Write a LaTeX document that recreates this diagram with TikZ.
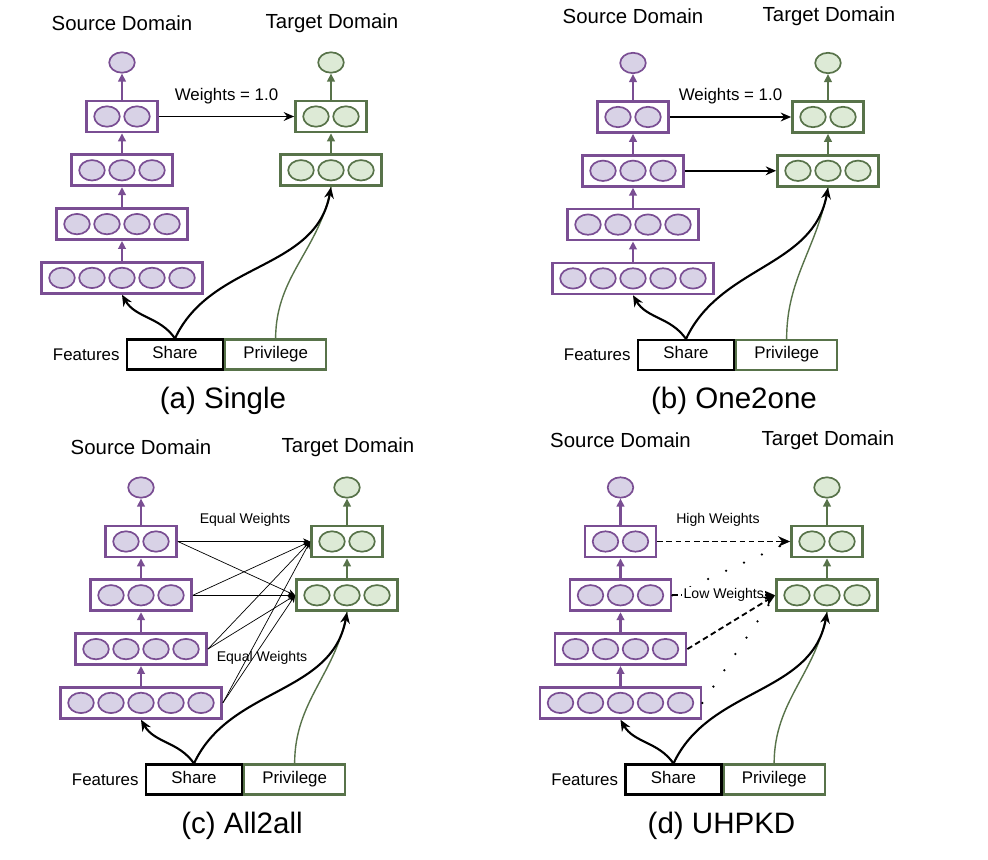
\documentclass[tikz,border=0pt]{standalone}
\usepackage{fontspec}
\setmainfont{Liberation Sans}
\usetikzlibrary{arrows.meta,positioning,shapes.geometric}
\definecolor{srcline}{HTML}{7A4E93}
\definecolor{srcfill}{HTML}{D8D2E6}
\definecolor{tgtline}{HTML}{58734A}
\definecolor{tgtfill}{HTML}{DDEAD6}

\newcommand\nnlayer[5]{%
  \node[layerbox,draw=#5line,minimum width={0.75cm*#2+0.275cm}] (#1) at (#3,{-(#4)}) {};
  \foreach \k in {1,...,#2}
    \node[unitnode,draw=#5line,fill=#5fill] (#1u\k) at ({#3+30*(\k-(#2+1)/2)},{-(#4)}) {};
}

\newcommand\nnpanel[6]{%
  \node[domtitle] (#1st) at (#2,{-(#5)}) {Source Domain};
  \node[domtitle] (#1tt) at ({#3+1},{-(#5)}) {Target Domain};
  \node[unitnode,draw=srcline,fill=srcfill] (#1so) at (#2,{-(#4-54)}) {};
  \node[unitnode,draw=tgtline,fill=tgtfill] (#1to) at (#3,{-(#4-54)}) {};
  \nnlayer{#1s2}{2}{#2}{#4}{src}
  \nnlayer{#1s3}{3}{#2}{#4+53.8}{src}
  \nnlayer{#1s4}{4}{#2}{#4+107.6}{src}
  \nnlayer{#1s5}{5}{#2}{#4+161.4}{src}
  \nnlayer{#1t2}{2}{#3}{#4}{tgt}
  \nnlayer{#1t3}{3}{#3}{#4+53.8}{tgt}
  \draw[uparr,srcline] (#1s5.north) -- (#1s4.south);
  \draw[uparr,srcline] (#1s4.north) -- (#1s3.south);
  \draw[uparr,srcline] (#1s3.north) -- (#1s2.south);
  \draw[uparr,srcline] (#1s2.north) -- (#1so.south);
  \draw[uparr,tgtline] (#1t3.north) -- (#1t2.south);
  \draw[uparr,tgtline] (#1t2.north) -- (#1to.south);
  \node[featbox,minimum width=2.4cm] (#1sh) at ({#2+53},{-(#4+238)}) {Share};
  \node[featbox,draw=tgtline,minimum width=2.525cm,right=0pt of #1sh] (#1pv) {Privilege};
  \node[lbl,left=1pt of #1sh] (#1ft) {Features};
  \node[capt] (#1cap) at ({#2+101},{-(#4+284)}) {#6};
  \draw[privline] (#1pv.north) to[out=90,in=-100] (#1t3.south);
  \draw[feedarr] (#1sh.north) to[out=125,in=-60] (#1s5.south);
  \draw[feedarr] (#1sh.north) to[out=65,in=-100] (#1t3.south);
}

\begin{document}
\begin{tikzpicture}[x=0.025cm,y=0.025cm,
  domtitle/.style={font=\fontsize{14.5}{17}\selectfont},
  lbl/.style={font=\fontsize{12}{14}\selectfont},
  capt/.style={font=\fontsize{21}{25}\selectfont},
  wlabel/.style={font=\fontsize{12}{14}\selectfont},
  wsmall/.style={font=\fontsize{10}{12}\selectfont},
  layerbox/.style={draw,line width=1.9pt,minimum height=0.775cm,inner sep=0pt},
  unitnode/.style={ellipse,line width=1.2pt,minimum width=0.64cm,minimum height=0.51cm,inner sep=0pt},
  featbox/.style={draw,line width=1.5pt,minimum height=0.75cm,inner sep=0pt,
    text height=1.35ex,text depth=0.35ex,font=\fontsize{12}{14}\selectfont},
  uparr/.style={line width=1.5pt,-{Triangle[length=2mm,width=1.9mm]}},
  feedarr/.style={line width=1.5pt,-{Stealth[length=2.8mm,width=2.4mm]}},
  privline/.style={tgtline,line width=1pt},
  wtarr/.style={line width=1.3pt,-{Stealth[length=2.6mm,width=2.2mm]}},
  allarr/.style={line width=0.5pt,-{Stealth[length=1.8mm,width=1.6mm]}},
  hiarr/.style={line width=1.3pt,dash pattern=on 4pt off 2.5pt,-{Stealth[length=3mm,width=2.6mm]}},
  loline/.style={line width=1.8pt,line cap=round,dash pattern=on 0pt off 14pt}]
  \useasboundingbox (0,0) rectangle (988,-860);
  \nnpanel{a}{122}{331}{116.5}{23}{(a) Single}
  \nnpanel{b}{633}{828}{117}{16}{(b) One2one}
  \nnpanel{c}{141}{347}{541.5}{447}{(c) All2all}
  \nnpanel{d}{620.5}{827}{541.5}{440}{(d) UHPKD}
  \draw[wtarr] (as2) -- node[wlabel,above=5pt] (aw) {Weights = 1.0} (at2);
  \draw[wtarr] (bs2) -- node[wlabel,above=5pt] (bw) {Weights = 1.0} (bt2);
  \draw[wtarr] (bs3) -- (bt3);
  \foreach \s in {2,...,5} {
    \draw[allarr] (cs\s.east) -- (ct2.west);
    \draw[allarr] (cs\s.east) -- (ct3.west);
  }
  \node[wsmall] (cw1) at (245,-520) {Equal Weights};
  \node[wsmall] (cw2) at (262,-658) {Equal Weights};
  \draw[hiarr] (ds2.east) -- (dt2.west);
  \node[wsmall] (dw1) at (718,-520) {High Weights};
  \draw[loline] (ds3.east) -- (dt2.west);
  \draw[hiarr] (ds3.east) -- node[wsmall,fill=white,inner sep=1pt] (dw2) {Low Weights} (dt3.west);
  \draw[hiarr] (ds4.east) -- (dt3.west);
  \draw[loline] (ds5.east) -- (dt3.west);
\end{tikzpicture}
\end{document}
